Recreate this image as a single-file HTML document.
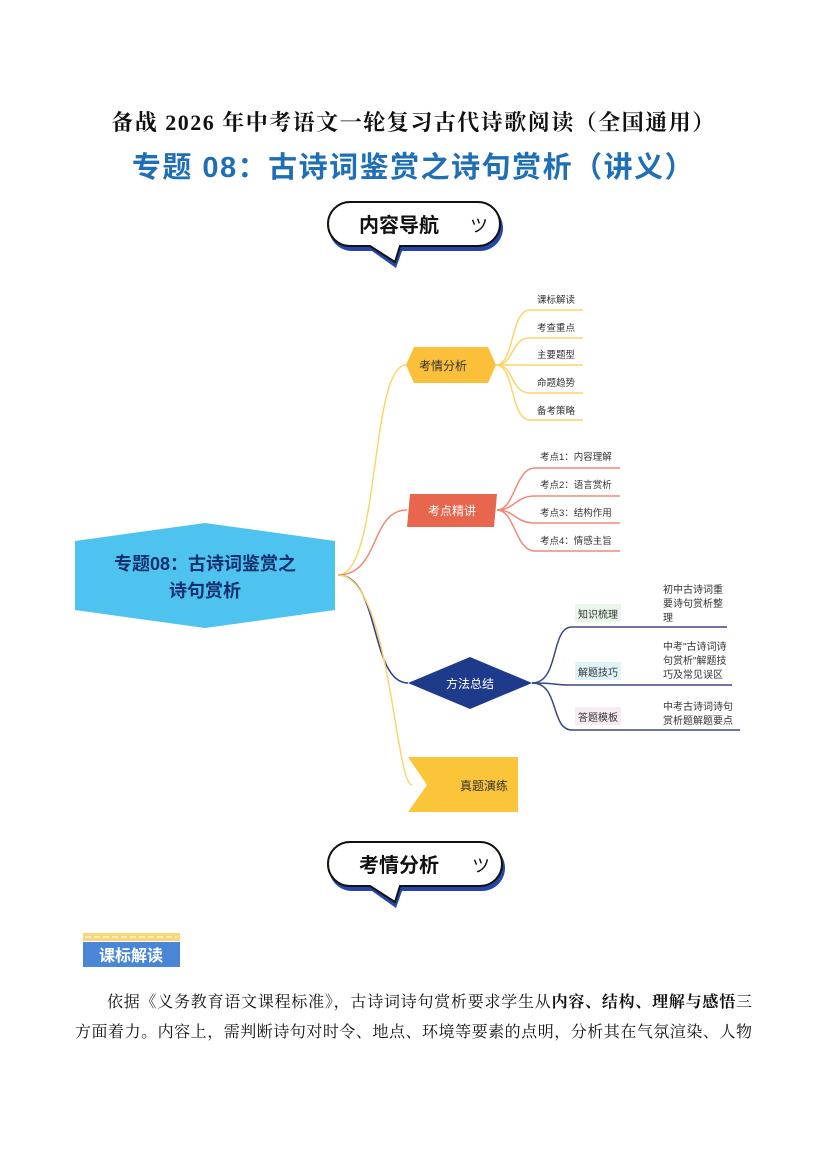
<!DOCTYPE html>
<html><head><meta charset="utf-8"><style>
body{margin:0;width:827px;height:1169px;background:#fff;position:relative;font-family:"Liberation Sans","Noto Sans CJK SC",sans-serif;overflow:hidden}
.t{position:absolute;white-space:nowrap}
.ln{position:absolute;font-size:16px;color:#111;text-align:justify;text-align-last:justify;white-space:nowrap;font-family:'Liberation Serif','Noto Serif CJK SC',serif}
</style></head><body>
<div class="t" style="left:0;width:827px;text-align:center;top:106px;font-size:22px;letter-spacing:1.5px;font-weight:bold;color:#111;font-family:'Liberation Serif','Noto Serif CJK SC',serif">备战 2026 年中考语文一轮复习古代诗歌阅读（全国通用）</div>
<div class="t" style="left:0;width:827px;text-align:center;top:144px;font-size:29px;letter-spacing:1.5px;font-weight:bold;color:#1f6fb5">专题 08：古诗词鉴赏之诗句赏析（讲义）</div>

<svg width="827" height="1169" style="position:absolute;left:0;top:0" font-family="Liberation Sans,Noto Sans CJK SC,sans-serif">
<g>
<path d="M352,205 H480 A22,22 0 0 1 480,251 H402 L396,268 L372,251 H352 A22,22 0 0 1 352,205Z" fill="#2446a8"/>
<path d="M350,202 H478 A22,22 0 0 1 478,246 H400 L395,262 L370,246 H350 A22,22 0 0 1 350,202Z" fill="#fff" stroke="#111" stroke-width="2"/>
<text x="359" y="232" font-size="20" font-weight="bold" fill="#111">内容导航</text>
<text x="470" y="232" font-size="18" fill="#111">ツ</text>
</g>
<g>
<path d="M352,845 H482 A22,22 0 0 1 482,891 H402 L396,908 L372,891 H352 A22,22 0 0 1 352,845Z" fill="#2446a8"/>
<path d="M350,842 H480 A22,22 0 0 1 480,886 H400 L395,902 L370,886 H350 A22,22 0 0 1 350,842Z" fill="#fff" stroke="#111" stroke-width="2"/>
<text x="359" y="872" font-size="20" font-weight="bold" fill="#111">考情分析</text>
<text x="472" y="872" font-size="18" fill="#111">ツ</text>
</g>

<g fill="none" stroke-width="1.5">
<path d="M338,575 C380,575 370,365 406,365" stroke="#fbd46a"/>
<path d="M338,575 C380,575 370,510 407,510" stroke="#ef8a78"/>
<path d="M338,575 C380,575 370,683 408,683" stroke="#2a3f8f"/>
<path d="M338,575 C390,575 395,785 412,785" stroke="#fbd46a"/>
<g stroke="#fbd46a">
<path d="M496,365 C515,365 510,310 530,310 H583"/>
<path d="M496,365 C515,365 510,338 530,338 H583"/>
<path d="M496,365 H583"/>
<path d="M496,365 C515,365 510,393 530,393 H583"/>
<path d="M496,365 C515,365 510,420 530,420 H583"/>
</g>
<g stroke="#ef8a78">
<path d="M497,510 C515,510 515,468 535,468 H620"/>
<path d="M497,510 C515,510 515,496 535,496 H620"/>
<path d="M497,510 C515,510 515,523 535,523 H620"/>
<path d="M497,510 C515,510 515,551 535,551 H620"/>
</g>
<g stroke="#3a4a80">
<path d="M532,683 C560,683 550,627 572,627 H727"/>
<path d="M532,683 C560,683 550,685 572,685 H732"/>
<path d="M532,683 C560,683 550,730 572,730 H740"/>
</g>
</g>

<polygon points="75,541 205,523 335,541 335,610 205,628 75,610" fill="#4fc3f0"/>
<text x="205" y="570" font-size="18" font-weight="bold" fill="#13306e" text-anchor="middle">专题08：古诗词鉴赏之</text>
<text x="205" y="597" font-size="18" font-weight="bold" fill="#13306e" text-anchor="middle">诗句赏析</text>

<polygon points="406,365 414,347 488,347 496,365 488,383 414,383" fill="#fbbf3a"/>
<text x="419" y="370" font-size="12" fill="#333">考情分析</text>
<g font-size="9.5" fill="#333">
<text x="537" y="303">课标解读</text><text x="537" y="331">考查重点</text><text x="537" y="358">主要题型</text><text x="537" y="386">命题趋势</text><text x="537" y="414">备考策略</text>
</g>

<polygon points="410,494 497,494 494,527 407,527" fill="#e8664d"/>
<text x="452" y="515" font-size="12" fill="#fff" text-anchor="middle">考点精讲</text>
<g font-size="9.5" fill="#333">
<text x="540" y="460">考点1：内容理解</text><text x="540" y="488">考点2：语言赏析</text><text x="540" y="516">考点3：结构作用</text><text x="540" y="544">考点4：情感主旨</text>
</g>

<polygon points="408,683 470,657 532,683 470,709" fill="#1e3a8a"/>
<text x="470" y="688" font-size="12" fill="#fff" text-anchor="middle">方法总结</text>
<rect x="575" y="604" width="46" height="18" fill="#eaf6ea"/>
<rect x="575" y="662" width="46" height="18" fill="#dff4f8"/>
<rect x="575" y="707" width="46" height="18" fill="#f7ebf3"/>
<g font-size="10" fill="#333">
<text x="578" y="618">知识梳理</text><text x="578" y="676">解题技巧</text><text x="578" y="721">答题模板</text>
<text x="663" y="593">初中古诗词重</text><text x="663" y="607">要诗句赏析整</text><text x="663" y="621">理</text>
<text x="663" y="650">中考"古诗词诗</text><text x="663" y="664">句赏析"解题技</text><text x="663" y="678">巧及常见误区</text>
<text x="663" y="710">中考古诗词诗句</text><text x="663" y="724">赏析题解题要点</text>
</g>

<polygon points="408,757 518,757 518,812 408,812 427,785" fill="#fbc53a"/>
<text x="484" y="790" font-size="12" fill="#333" text-anchor="middle">真题演练</text>

<rect x="83" y="933" width="97" height="8" fill="#f6d77a"/>
<g stroke="#fff" stroke-width="1" stroke-dasharray="6,3"><line x1="85" y1="937" x2="178" y2="937"/></g>
<rect x="83" y="942" width="97" height="25" fill="#4a86d6"/>
<text x="131" y="961" font-size="16" font-weight="bold" fill="#fff" text-anchor="middle">课标解读</text>
</svg>

<div class="ln" style="left:107px;top:989px;width:645px">依据《义务教育语文课程标准》，古诗词诗句赏析要求学生从<b>内容、结构、理解与感悟</b>三</div>
<div class="ln" style="left:75px;top:1019px;width:677px">方面着力。内容上，需判断诗句对时令、地点、环境等要素的点明，分析其在气氛渲染、人物</div>
</body></html>
